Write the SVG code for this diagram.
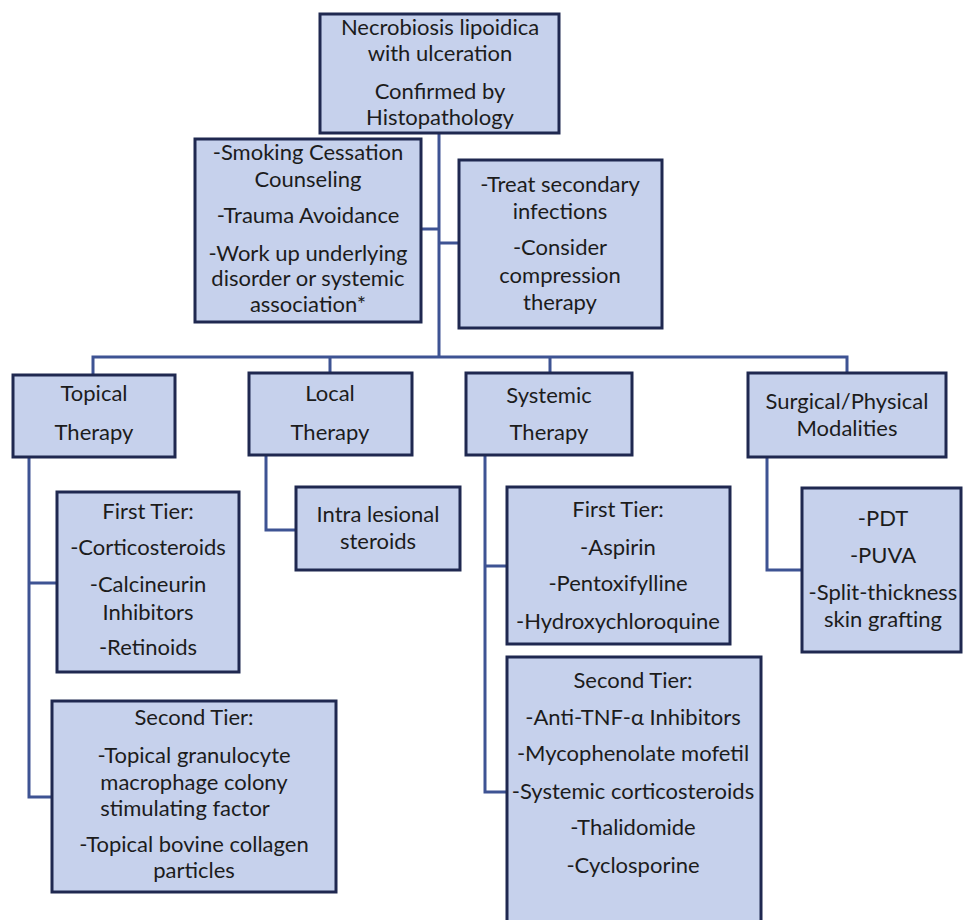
<svg xmlns="http://www.w3.org/2000/svg" width="963" height="920" viewBox="0 0 963 920">
<style>
.box{fill:#c6d1ec;stroke:#1f2850;stroke-width:3}
.c{fill:none;stroke:#3e5393;stroke-width:3}
text{font-family:Lato,"Liberation Sans",sans-serif;font-size:22px;fill:#1c1c1c;text-anchor:middle}
</style>
<rect width="963" height="920" fill="#ffffff"/>
<g id="connectors">
<path class="c" d="M439 133V357M421 229H439M439 243H459M93 375V357H847V373M330 357V373M550 357V373"/>
<path class="c" d="M29 457V797H52M29 583H57"/>
<path class="c" d="M266 455V530H296"/>
<path class="c" d="M485 455V792H507M485 566H507"/>
<path class="c" d="M767 457V570H802"/>
</g>
<g id="root">
<rect class="box" x="320" y="14" width="239" height="119"/>
<text x="440" y="35">Necrobiosis lipoidica</text>
<text x="440" y="61">with ulceration</text>
<text x="440" y="99">Confirmed by</text>
<text x="440" y="125">Histopathology</text>
</g>
<g id="general">
<rect class="box" x="195" y="139" width="226" height="183"/>
<text x="308" y="160">-Smoking Cessation</text>
<text x="308" y="187">Counseling</text>
<text x="308" y="223">-Trauma Avoidance</text>
<text x="308" y="261">-Work up underlying</text>
<text x="308" y="286">disorder or systemic</text>
<text x="308" y="312">association*</text>
</g>
<g id="secondary">
<rect class="box" x="459" y="160" width="203" height="168"/>
<text x="560" y="192">-Treat secondary</text>
<text x="560" y="219">infections</text>
<text x="560" y="255">-Consider</text>
<text x="560" y="283">compression</text>
<text x="560" y="310">therapy</text>
</g>
<g id="topical">
<rect class="box" x="13" y="375" width="162" height="82"/>
<text x="94" y="401">Topical</text>
<text x="94" y="440">Therapy</text>
</g>
<g id="local">
<rect class="box" x="249" y="373" width="163" height="82"/>
<text x="330" y="401">Local</text>
<text x="330" y="440">Therapy</text>
</g>
<g id="systemic">
<rect class="box" x="466" y="373" width="166" height="82"/>
<text x="549" y="403">Systemic</text>
<text x="549" y="440">Therapy</text>
</g>
<g id="surgical">
<rect class="box" x="748" y="373" width="198" height="84"/>
<text x="847" y="409">Surgical/Physical</text>
<text x="847" y="436">Modalities</text>
</g>
<g id="topical-first">
<rect class="box" x="57" y="492" width="182" height="180"/>
<text x="148" y="519">First Tier:</text>
<text x="148" y="555">-Corticosteroids</text>
<text x="148" y="592">-Calcineurin</text>
<text x="148" y="620">Inhibitors</text>
<text x="148" y="655">-Retinoids</text>
</g>
<g id="topical-second">
<rect class="box" x="52" y="701" width="284" height="191"/>
<text x="194" y="725">Second Tier:</text>
<text x="194" y="763">-Topical granulocyte</text>
<text x="194" y="790">macrophage colony</text>
<text x="185" y="816">stimulating factor</text>
<text x="194" y="852">-Topical bovine collagen</text>
<text x="194" y="878">particles</text>
</g>
<g id="intralesional">
<rect class="box" x="296" y="487" width="164" height="83"/>
<text x="378" y="522">Intra lesional</text>
<text x="378" y="549">steroids</text>
</g>
<g id="systemic-first">
<rect class="box" x="507" y="487" width="223" height="157"/>
<text x="618" y="517">First Tier:</text>
<text x="618" y="555">-Aspirin</text>
<text x="618" y="591">-Pentoxifylline</text>
<text x="618" y="629">-Hydroxychloroquine</text>
</g>
<g id="systemic-second">
<rect class="box" x="507" y="657" width="254" height="275"/>
<text x="633" y="688">Second Tier:</text>
<text x="633" y="725">-Anti-TNF-α Inhibitors</text>
<text x="633" y="761">-Mycophenolate mofetil</text>
<text x="633" y="799">-Systemic corticosteroids</text>
<text x="633" y="835">-Thalidomide</text>
<text x="633" y="873">-Cyclosporine</text>
</g>
<g id="surgical-list">
<rect class="box" x="802" y="488" width="159" height="164"/>
<text x="883" y="526">-PDT</text>
<text x="883" y="563">-PUVA</text>
<text x="883" y="600">-Split-thickness</text>
<text x="883" y="627">skin grafting</text>
</g>
</svg>
